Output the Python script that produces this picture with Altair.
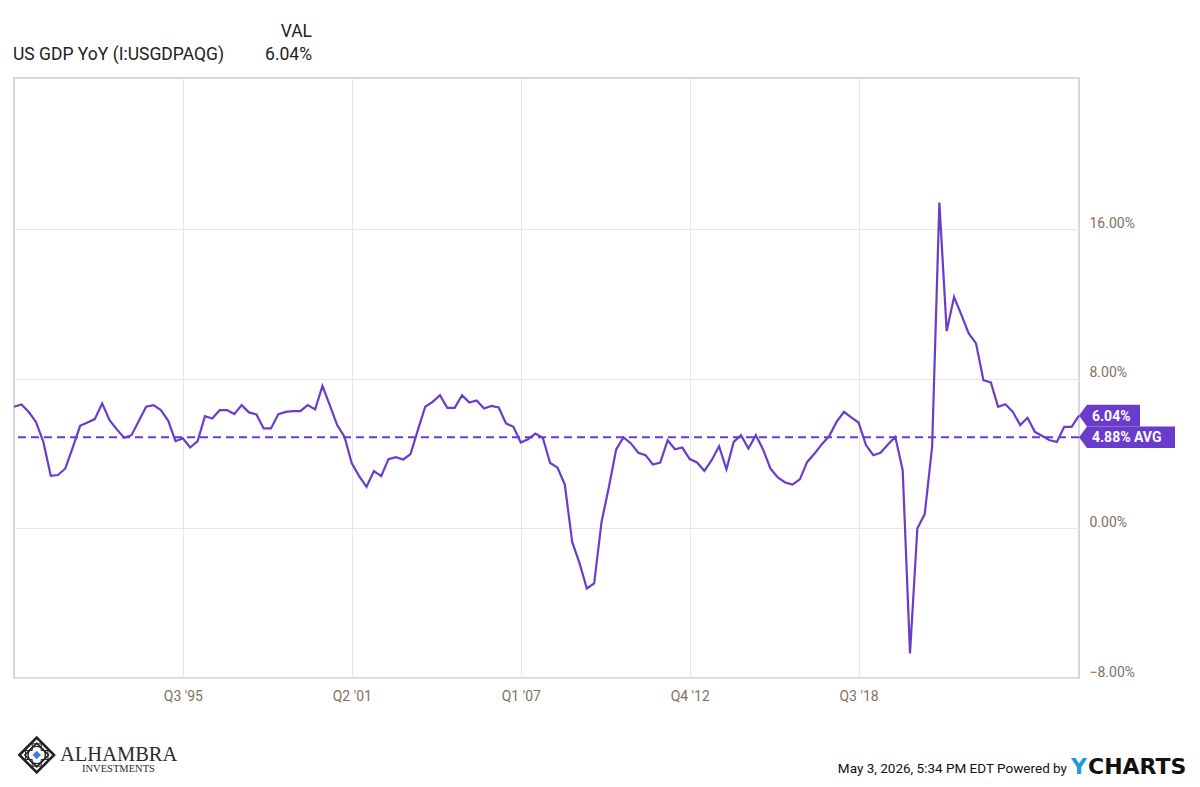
import altair as alt
import pandas as pd

# ---------------- data ----------------
START = "1989-10-01"  # first quarter shown (Q4 '89)
GDP_YOY = [
    6.51, 6.63, 6.24, 5.70, 4.63, 2.82, 2.86, 3.21, 4.33, 5.49,
    5.67, 5.85, 6.69, 5.79, 5.30, 4.85, 4.99, 5.76, 6.51, 6.60,
    6.33, 5.76, 4.67, 4.82, 4.33, 4.67, 6.01, 5.88, 6.33, 6.33,
    6.12, 6.60, 6.21, 6.10, 5.35, 5.35, 6.12, 6.24, 6.28, 6.28,
    6.60, 6.37, 7.63, 6.60, 5.53, 4.90, 3.48, 2.80, 2.23, 3.07,
    2.80, 3.71, 3.81, 3.69, 3.98, 5.26, 6.51, 6.77, 7.13, 6.45,
    6.45, 7.13, 6.74, 6.85, 6.42, 6.56, 6.47, 5.62, 5.44, 4.60,
    4.77, 5.08, 4.85, 3.50, 3.26, 2.35, -0.72, -1.87, -3.21, -2.94,
    0.35, 2.23, 4.23, 4.87, 4.55, 4.05, 3.92, 3.42, 3.53, 4.72,
    4.24, 4.33, 3.71, 3.53, 3.08, 3.65, 4.40, 3.16, 4.63, 4.99,
    4.28, 4.99, 4.23, 3.21, 2.73, 2.46, 2.35, 2.63, 3.56, 4.01,
    4.51, 4.94, 5.70, 6.24, 5.94, 5.67, 4.46, 3.92, 4.05, 4.49,
    4.90, 3.12, -6.69, 0.00, 0.77, 4.37, 17.44, 10.56, 12.39, 11.41,
    10.43, 9.90, 7.93, 7.81, 6.51, 6.65, 6.24, 5.53, 5.92, 5.17,
    4.95, 4.72, 4.63, 5.44, 5.44, 6.04,
]
LAST_VALUE = 6.04
AVG_VALUE = 4.88
X_DOMAIN = [(1989, 10), (2026, 1)]
TICK_DATES = [(1995, 7), (2001, 4), (2007, 1), (2012, 10), (2018, 7)]
Y_TICKS = [-8, 0, 8, 16]
Y_DOMAIN = [-8, 24.1]

SERIES_NAME = "US GDP YoY (I:USGDPAQG)"
HEADER_COL = "VAL"
LAST_LABEL = "6.04%"
AVG_LABEL = "4.88% AVG"
FOOTER = "May 3, 2026, 5:34 PM EDT Powered by"

# ---------------- styles ----------------
PURPLE = "#6a3ccc"
LABEL_BROWN = "#7f705c"
GRID = "#e6e6e6"
TEXT = "#222222"
W, H = 1065, 600

dates = pd.date_range(START, periods=len(GDP_YOY), freq="QS")
df = pd.DataFrame({"date": dates.strftime("%Y-%m-%dT00:00:00"), "v": GDP_YOY})


def dt(ym):
    return alt.DateTime(year=ym[0], month=ym[1], date=1)


x_enc = alt.X(
    "date:T",
    scale=alt.Scale(domain=[dt(d) for d in X_DOMAIN], nice=False),
    axis=alt.Axis(
        values=[dt(d) for d in TICK_DATES],
        labelExpr="'Q' + quarter(datum.value) + \" '\" + timeFormat(datum.value, '%y')",
        grid=True, gridColor=GRID, gridWidth=1,
        domain=False, ticks=False, labelPadding=11,
        labelFontSize=14, labelColor=LABEL_BROWN, labelFont="Roboto",
        title=None,
    ),
)
y_enc = alt.Y(
    "v:Q",
    scale=alt.Scale(domain=Y_DOMAIN, nice=False, zero=False),
    axis=alt.Axis(
        orient="right", values=Y_TICKS,
        labelExpr="format(datum.value, '.2f') + '%'",
        grid=True, gridColor=GRID, gridWidth=1,
        domain=False, ticks=False, labelPadding=10,
        labelAlign="left", labelBaseline="alphabetic", labelOffset=-2,
        labelFontSize=14, labelColor=LABEL_BROWN, labelFont="Roboto",
        title=None,
    ),
)

line = alt.Chart(df).mark_line(color=PURPLE, strokeWidth=2.2).encode(x=x_enc, y=y_enc)

avg_df = pd.DataFrame({"v": [AVG_VALUE], "label": [AVG_LABEL]})
last_df = pd.DataFrame({"v": [LAST_VALUE], "label": [LAST_LABEL]})

avg_rule = alt.Chart(avg_df).mark_rule(
    color=PURPLE, strokeDash=[8, 5], strokeWidth=2
).encode(y=alt.Y("v:Q"))

FLAG_LAST = "M0,0 L0.26,-0.356 L2,-0.356 L2,0.356 L0.26,0.356 Z"
FLAG_AVG = "M0,0 L0.167,-0.222 L2,-0.222 L2,0.222 L0.167,0.222 Z"

last_flag = alt.Chart(last_df).mark_point(
    shape=FLAG_LAST, size=3721, filled=True, fill=PURPLE, strokeWidth=0, opacity=1
).encode(x=alt.value(W), y=alt.Y("v:Q"))
avg_flag = alt.Chart(avg_df).mark_point(
    shape=FLAG_AVG, size=9216, filled=True, fill=PURPLE, strokeWidth=0, opacity=1
).encode(x=alt.value(W), y=alt.Y("v:Q"))

flag_text_last = alt.Chart(last_df).mark_text(
    align="left", baseline="middle", font="Roboto", fontSize=14,
    fontWeight="bold", color="white", dy=1
).encode(x=alt.value(W + 13), y=alt.Y("v:Q"), text="label:N")
flag_text_avg = alt.Chart(avg_df).mark_text(
    align="left", baseline="middle", font="Roboto", fontSize=14,
    fontWeight="bold", color="white", dy=1
).encode(x=alt.value(W + 13), y=alt.Y("v:Q"), text="label:N")


def label(text, x, y, size, color=TEXT, align="left", font="Roboto", weight="normal"):
    return alt.Chart(pd.DataFrame({"t": [text]})).mark_text(
        align=align, baseline="alphabetic", font=font, fontSize=size,
        fontWeight=weight, color=color
    ).encode(x=alt.value(x), y=alt.value(y), text="t:N")


def symbol(shape, x, y, size, filled, color, sw=0):
    kw = dict(shape=shape, size=size, filled=filled, opacity=1)
    if filled:
        kw.update(fill=color, strokeWidth=0)
    else:
        kw.update(stroke=color, strokeWidth=sw)
    return alt.Chart(pd.DataFrame({"t": [0]})).mark_point(**kw).encode(
        x=alt.value(x), y=alt.value(y)
    )


header = [
    label(HEADER_COL, 298, -41, 17.5, align="right"),
    label(SERIES_NAME, -1, -18, 17.5),
    label(LAST_LABEL, 298, -18, 17.5, align="right"),
]

footer = [
    label(FOOTER, 1053, 695, 13.5, color="#111111", align="right"),
    label("Y", 1057, 696, 22, color="#1e9ad6", font="DejaVu Sans", weight="bold"),
    label("CHARTS", 1074, 696, 22, color="#111111", font="DejaVu Sans", weight="bold"),
]

logo = [
    symbol("diamond", 22.7, 677, 1200, False, "#222222", 2.6),
    symbol("diamond", 22.7, 677, 560, False, "#222222", 1.6),
    symbol("circle", 22.7, 677, 300, False, "#222222", 1.4),
    symbol("cross", 22.7, 677, 500, False, "#222222", 1.0),
    symbol("diamond", 22.7, 677, 70, True, "#3b7dd8"),
    label("ALHAMBRA", 46, 683, 20.5, color="#2b2b2b", font="Liberation Serif"),
    label("INVESTMENTS", 68, 694, 10.5, color="#2b2b2b", font="Liberation Serif"),
]

chart = alt.layer(
    line, avg_rule, last_flag, avg_flag, flag_text_last, flag_text_avg,
    *header, *footer, *logo,
).properties(
    width=W, height=H,
    autosize=alt.AutoSizeParams(type="none"),
    padding={"left": 6, "top": 70, "right": 112, "bottom": 100},
    background="white",
).configure_view(stroke="#cccccc", strokeWidth=1.5)

chart.save("out.html", embed_options={"renderer": "svg", "actions": False})
